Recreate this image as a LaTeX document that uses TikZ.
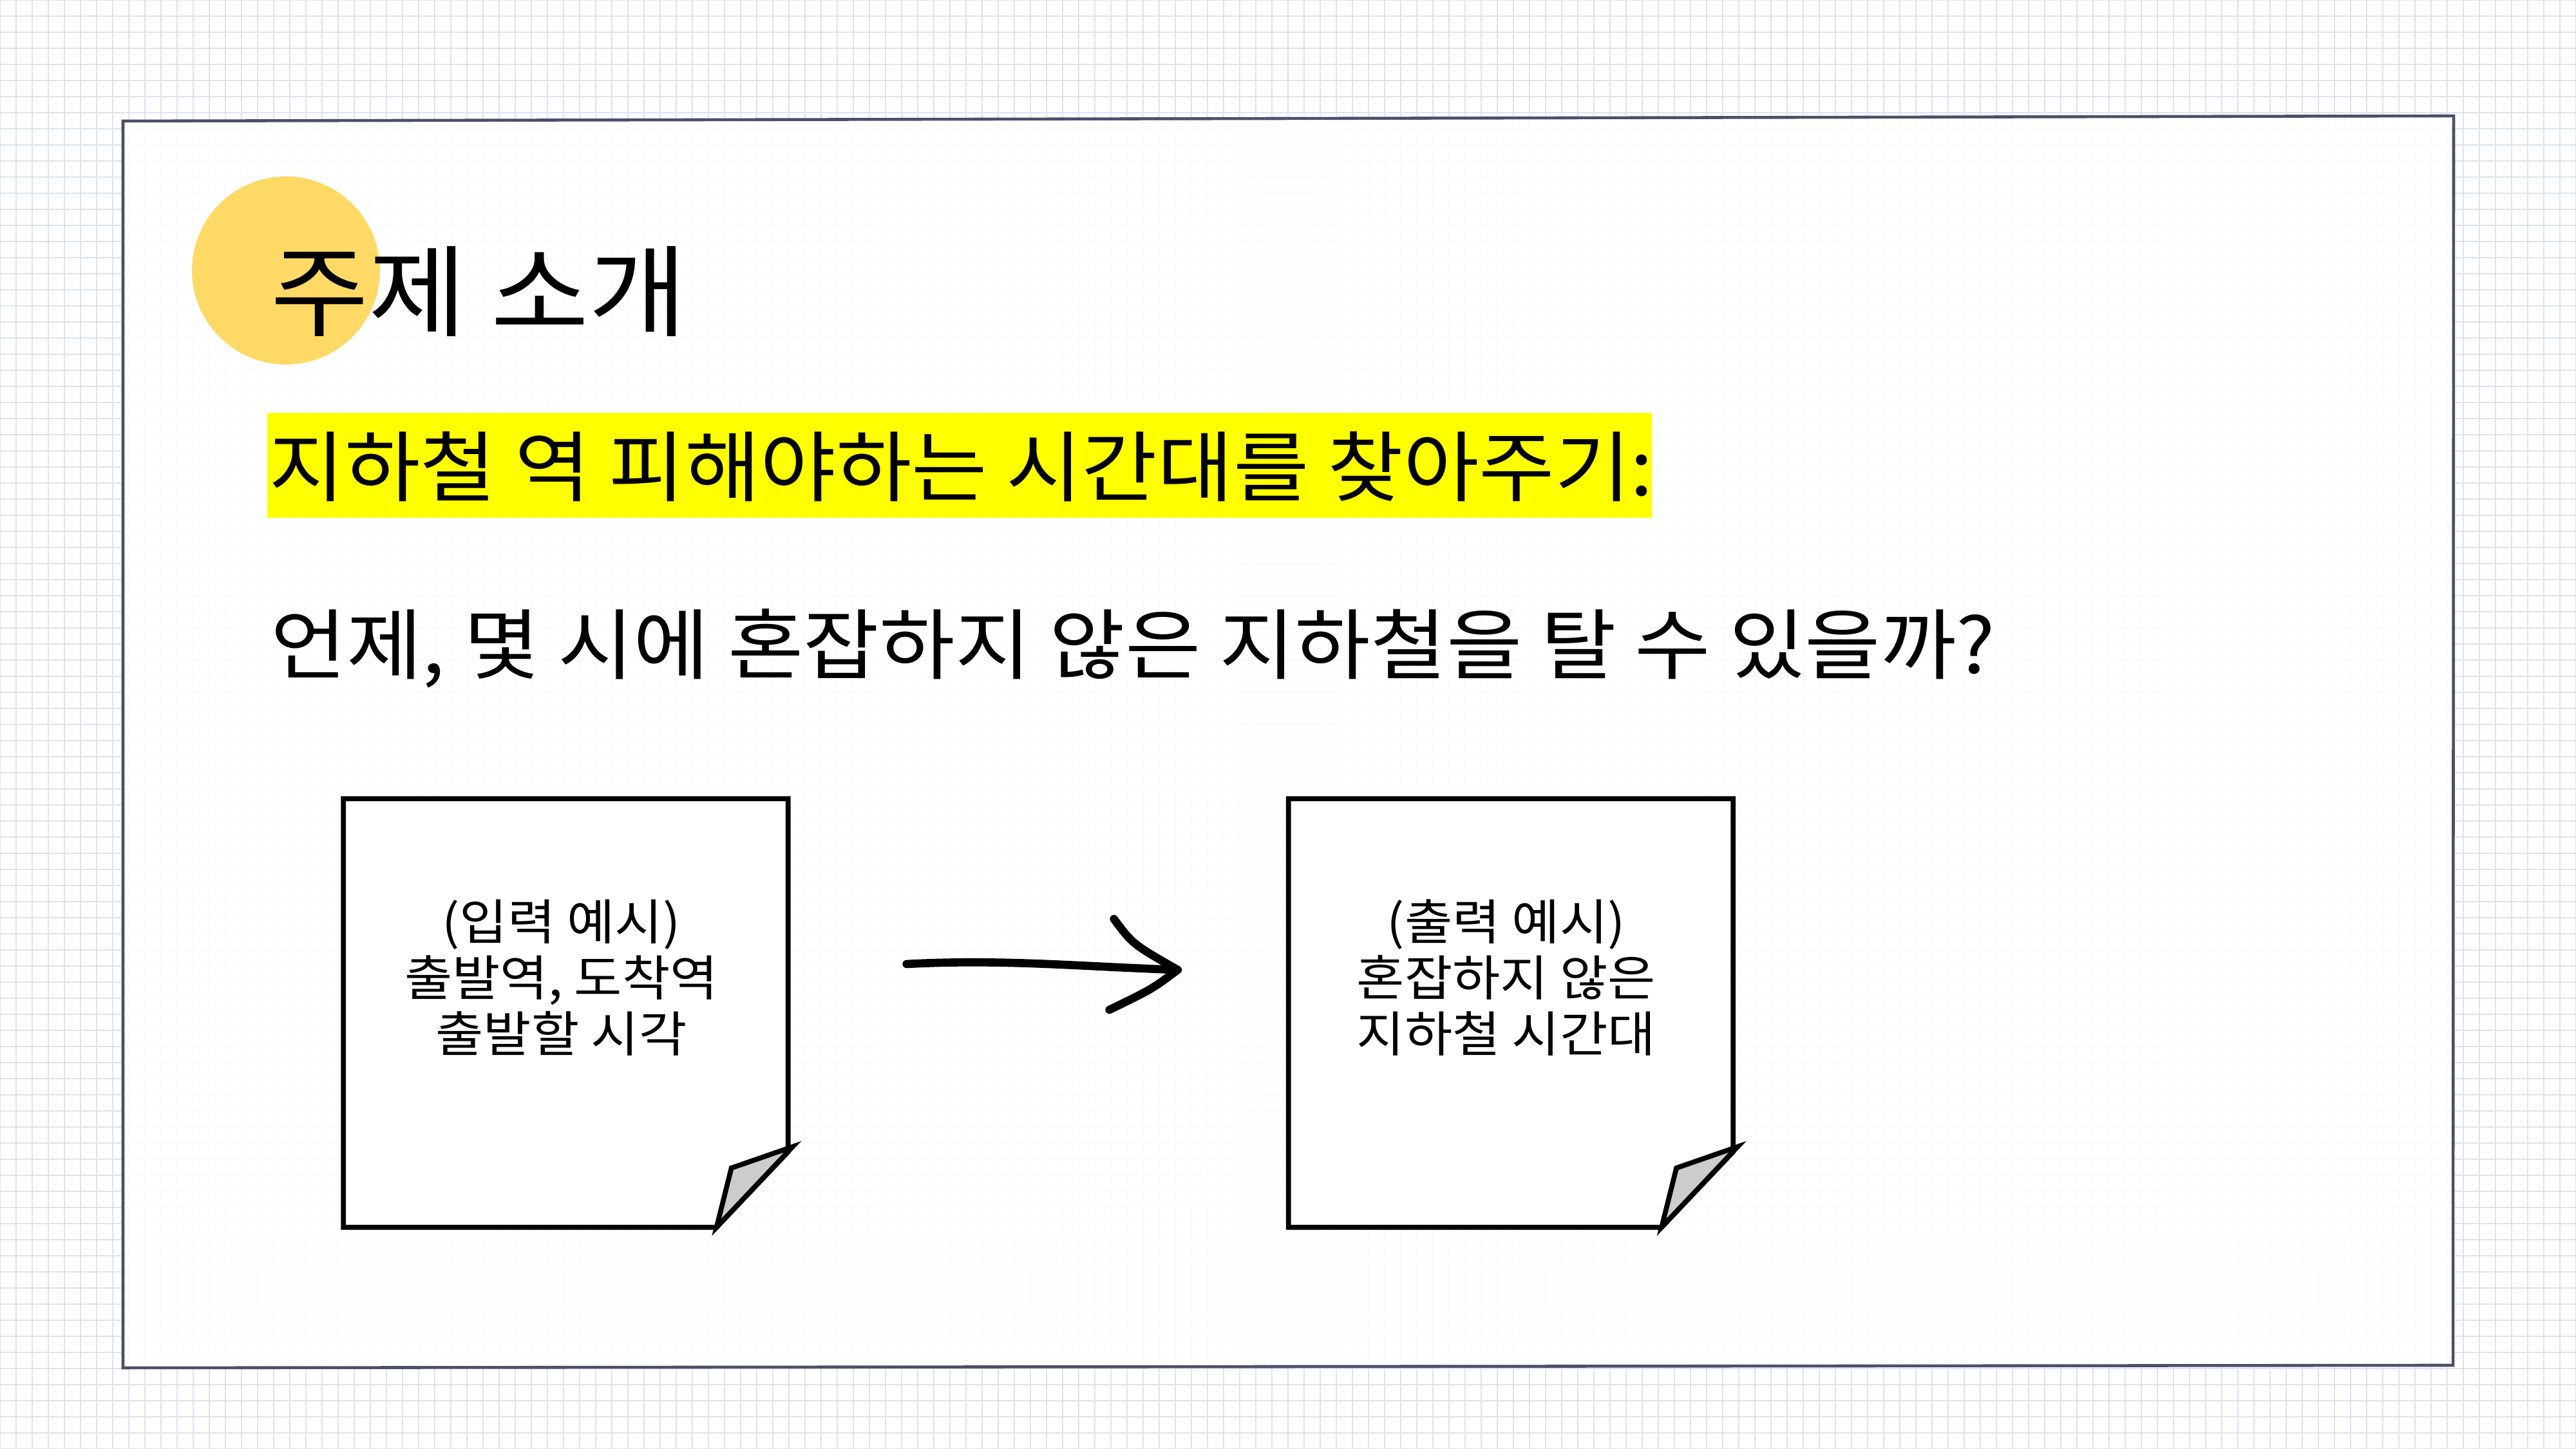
\documentclass[tikz,border=0pt]{standalone}
\usepackage{fontspec}
\setmainfont{Noto Sans CJK KR}[FakeStretch=1.07]
\usepackage{tikz}
\newcommand{\notew}{6.89cm}
\newcommand{\noteh}{6.64cm}
\definecolor{gridBlue}{RGB}{222,226,242}
\definecolor{frameGray}{RGB}{74,80,104}
\definecolor{sunYellow}{RGB}{255,217,102}
\definecolor{markYellow}{RGB}{255,255,0}
\definecolor{flapGray}{RGB}{204,204,204}
\usetikzlibrary{calc,positioning}
\tikzset{
  title/.style={anchor=west,inner sep=0,font=\fontsize{44}{50}\selectfont},
  body/.style={anchor=west,inner sep=0,font=\fontsize{34}{40}\selectfont},
  note/.style={shape=rectangle,minimum width=\notew,minimum height=\noteh,inner sep=0},
  notetext/.style={align=center,font=\fontsize{21.5}{24.7}\selectfont},
  edge/.style={draw,line width=2.2pt,line join=miter},
  brush/.style={draw,line width=3.6pt,line cap=round,line join=round},
}
\begin{document}
\begin{tikzpicture}
    \useasboundingbox (0,0) rectangle (40,22.5);
    % paper grid
    \draw [gridBlue,line width=0.6pt] (0,0) grid [step=0.25] (40,22.5);
    \path [draw=frameGray,fill=white,fill opacity=0.85,line width=1.3pt]
      (1.91,20.62) -- (38.1,20.7) -- (38.09,1.3) -- (1.91,1.26) -- cycle;

    \fill [sunYellow] (4.44,18.3) circle (1.46);
    \node (title) [title] at (4.2,17.97) {주제 소개};

    \fill [markYellow] (4.15,14.46) rectangle (25.65,16.09);
    \node (goal) [body] at (4.17,15.25) {지하철 역 피해야하는 시간대를 찾아주기:};
    \node (question) [body] at (4.2,12.43) {언제, 몇 시에 혼잡하지 않은 지하철을 탈 수 있을까?};

    % input and output notes
    \node (input) [note] at (8.785,6.77) {};
    \node (output) [note,right=7.77cm of input] {};
    \foreach \n in {input,output} {
      \path [edge,fill=white] (\n.south west) -- (\n.north west) -- (\n.north east)
        -- ($(\n.south east)+(0,1.17)$) -- ($(\n.south east)+(-1.11,0)$) -- cycle;
      \path [edge,fill=flapGray] ($(\n.south east)+(-1.11,0)$) -- ($(\n.south east)+(-0.88,0.92)$)
        -- ($(\n.south east)+(0.07,1.25)$) -- cycle;
    }
    \node (inputtext) [notetext] at ($(input.center)+(-0.07,0.55)$) {(입력 예시)\\출발역, 도착역\\출발할 시각};
    \node (outputtext) [notetext] at ($(output.center)+(-0.07,0.55)$) {(출력 예시)\\혼잡하지 않은\\지하철 시간대};

    \coordinate (from) at ($(input.east)+(1.84,0.76)$);
    \coordinate (to) at ($(output.west)+(-1.72,0.67)$);
    \path [brush] (from) .. controls ($(from)+(1.5,0.08)$) and ($(to)+(-1.5,0.05)$) .. (to);
    \path [brush] ($(to)+(-0.99,0.79)$) .. controls ($(to)+(-0.7,0.4)$) .. (to)
      .. controls ($(to)+(-0.4,-0.3)$) .. ($(to)+(-1.06,-0.62)$);
  \end{tikzpicture}
\end{document}
